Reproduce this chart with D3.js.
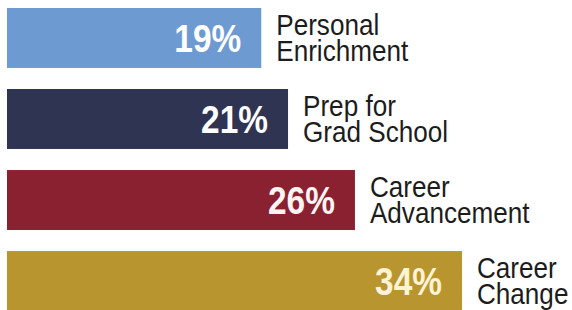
<!DOCTYPE html>
<html lang="en">
<head>
<meta charset="utf-8">
<title>Reasons for enrolling</title>
<script src="https://d3js.org/d3.v7.min.js"></script>
<style>
  body { margin: 0; background: #fff; }
</style>
</head>
<body>
<div id="chart"></div>
<script>
// data
var categories = ["Personal Enrichment", "Prep for Grad School", "Career Advancement", "Career Change"];
var labelLines = [["Personal", "Enrichment"], ["Prep for", "Grad School"], ["Career", "Advancement"], ["Career", "Change"]];
var values = [19, 21, 26, 34];
var colors = ["#6e9ad2", "#2f3452", "#8a2131", "#b8952f"];
var valueColors = ["#ffffff", "#ffffff", "#fff4f4", "#fff3d6"];

var width = 572, height = 310;

var svg = d3.select("#chart")
  .append("svg")
    .attr("width", width)
    .attr("height", height);

// x scale: bars grow from the left edge
var x = d3.scaleLinear()
  .domain([0, 34])
  .range([7, 462]);

// y scale: one band per category
var y = d3.scaleBand()
  .domain(categories)
  .range([8, 311])
  .paddingInner(0.26)
  .paddingOuter(0);

var rows = svg.selectAll("g.row")
  .data(categories)
  .enter()
  .append("g")
    .attr("class", "row");

// bars
rows.append("rect")
  .attr("x", x(0))
  .attr("y", function(d) { return y(d); })
  .attr("width", function(d, i) { return x(values[i]) - x(0); })
  .attr("height", y.bandwidth())
  .attr("fill", function(d, i) { return colors[i]; });

// percent inside the bar
rows.append("text")
  .attr("transform", function(d, i) {
    return "translate(" + (x(values[i]) - 20) + "," + (y(d) + 44) + ") scale(0.88,1)";
  })
  .attr("text-anchor", "end")
  .style("font-family", "'Liberation Sans', Arial, sans-serif")
  .style("font-weight", "bold")
  .style("font-size", "38px")
  .attr("fill", function(d, i) { return valueColors[i]; })
  .text(function(d, i) { return values[i] + "%"; });

// category label to the right of the bar, two lines
var labels = rows.append("text")
  .attr("transform", function(d, i) {
    return "translate(" + (x(values[i]) + 15) + "," + (y(d) + 27) + ") scale(0.9,1)";
  })
  .style("font-family", "'Liberation Sans', Arial, sans-serif")
  .style("font-size", "29px")
  .attr("fill", "#1c1c1c");

labels.selectAll("tspan")
  .data(function(d, i) { return labelLines[i]; })
  .enter()
  .append("tspan")
    .attr("x", 0)
    .attr("y", function(d, j) { return j * 26; })
    .text(function(d) { return d; });
</script>
</body>
</html>
